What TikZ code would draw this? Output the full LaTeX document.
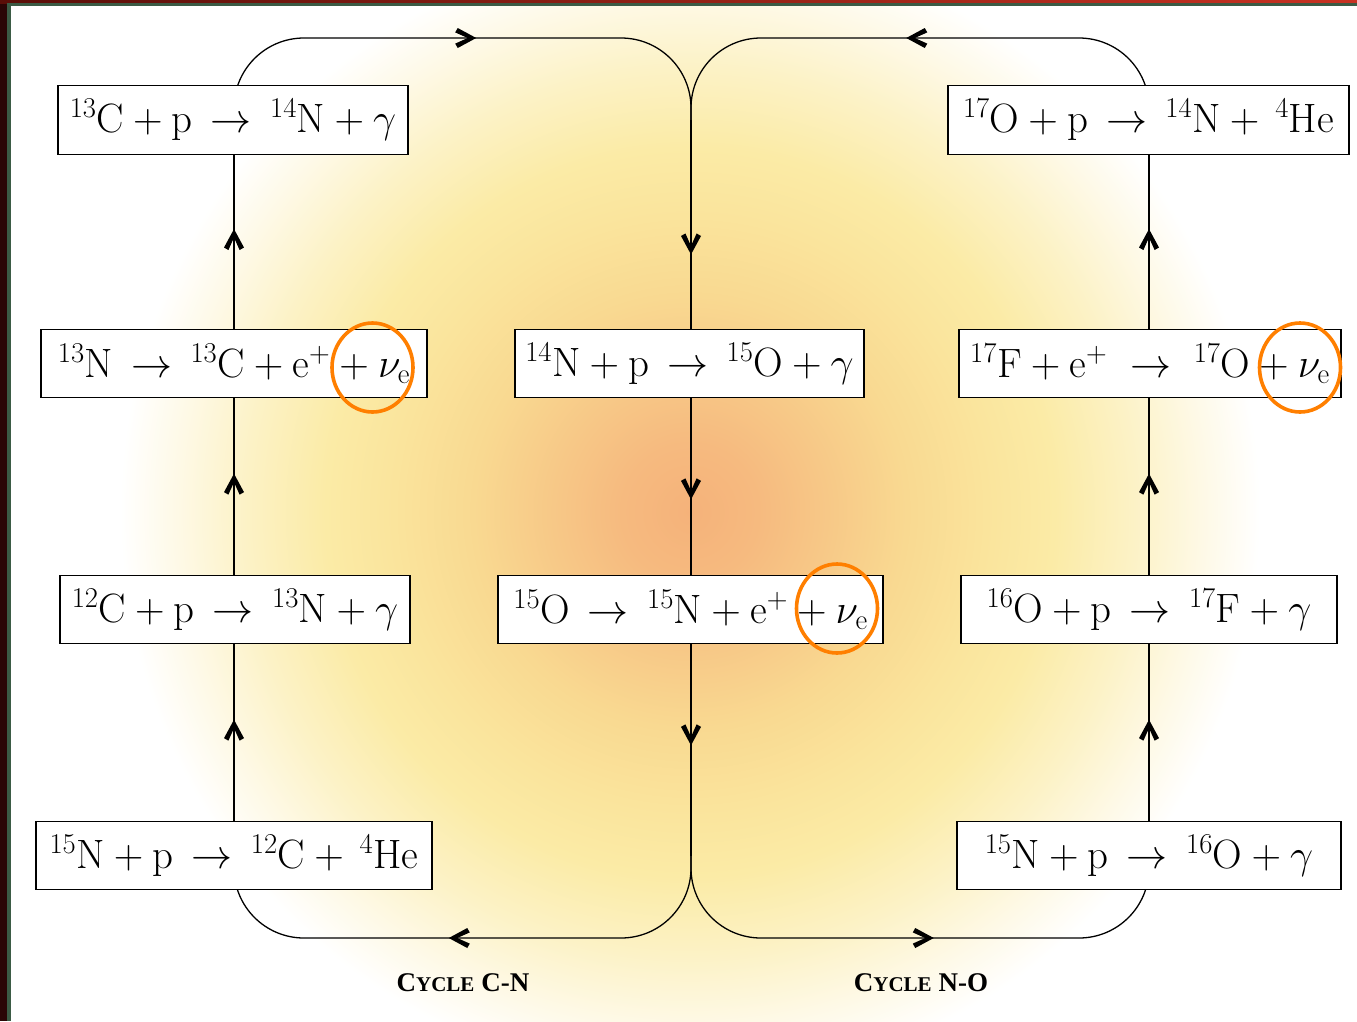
\RequirePackage{fix-cm}
\documentclass[tikz,border=0pt]{standalone}
\usepackage{fontspec}
\newfontfamily\labfont{Liberation Serif}
\usetikzlibrary{arrows.meta,decorations.markings,shapes.geometric}
\pgfdeclarelayer{bgg}
\pgfdeclarelayer{bg}
\pgfsetlayers{bgg,bg,main}
\definecolor{sun0}{HTML}{F5B27A}
\definecolor{sun1}{HTML}{F6BA7F}
\definecolor{sun2}{HTML}{F7C887}
\definecolor{sun3}{HTML}{F9D991}
\definecolor{sun4}{HTML}{FAE49C}
\definecolor{sun5}{HTML}{FBEBA6}
\definecolor{sun6}{HTML}{FCF2C6}
\definecolor{sun7}{HTML}{FEF9E6}
\definecolor{ringorange}{HTML}{FF7F00}
\definecolor{bordL}{HTML}{2A0606}
\definecolor{bordG}{HTML}{3B5B45}
\definecolor{bordRa}{HTML}{5A0E08}
\definecolor{bordRb}{HTML}{C83222}
\pgfdeclareradialshading{sunshade}{\pgfpoint{0bp}{0bp}}{color(0bp)=(sun0); color(3bp)=(sun1); color(6bp)=(sun2); color(9.5bp)=(sun3); color(13bp)=(sun4); color(16bp)=(sun5); color(19.5bp)=(sun6); color(22.5bp)=(sun7); color(25bp)=(white); color(50bp)=(white)}
\newcommand{\iso}[2]{{}^{#1}\mathrm{#2}}
\tikzset{
  rx/.style={draw, line width=1.2pt, fill=white, minimum height=68.5pt, inner xsep=0pt, inner ysep=0pt, font=\fontsize{41}{49}\selectfont},
  link/.style={line width=1.3pt},
  arrowat/.style={postaction={decorate}, decoration={markings, mark=at position #1 with {\fill[black, sharp corners] (2.5pt,0pt) -- (-16pt,10pt) -- (-18.5pt,5.6pt) -- (-6pt,0pt) -- (-18.5pt,-5.6pt) -- (-16pt,-10pt) -- cycle;}}},
  ring/.style={ellipse, draw=ringorange, line width=3.6pt, minimum width=81pt, minimum height=89pt, inner sep=0pt},
  lab/.style={font=\labfont\bfseries, inner sep=0pt}
}
\newcommand{\cyc}[1]{{\fontsize{27}{30}\selectfont C}{\fontsize{21}{24}\selectfont YCLE}\hspace{7pt}{\fontsize{27}{30}\selectfont #1}}
\begin{document}
\begin{tikzpicture}[x=1pt,y=-1pt]
\useasboundingbox (0,0) rectangle (1357,1021);
% background
\begin{pgfonlayer}{bgg}
\fill[white] (0,0) rectangle (1357,1021);
\begin{scope}
\clip (11,6) rectangle (1357,1021);
\shade[shading=sunshade] (120,-58) rectangle (1260,1082);
\end{scope}
\end{pgfonlayer}
% reaction boxes
\node[rx, minimum width=350pt] (B1) at (233,120) {$\iso{13}{C}+\mathrm{p}\,\rightarrow\,\iso{14}{N}+\gamma$};
\node[rx, minimum width=386pt] (B2) at (234,363.5) {$\iso{13}{N}\,\rightarrow\,\iso{13}{C}+\mathrm{e}^{+}+\nu_{\mathrm{e}}$};
\node[rx, minimum width=350pt] (B3) at (235,609.5) {$\iso{12}{C}+\mathrm{p}\,\rightarrow\,\iso{13}{N}+\gamma$};
\node[rx, minimum width=396pt] (B4) at (234,855.5) {$\iso{15}{N}+\mathrm{p}\,\rightarrow\,\iso{12}{C}+\,\iso{4}{He}$};
\node[rx, minimum width=349pt] (M1) at (689.5,363.5) {$\iso{14}{N}+\mathrm{p}\,\rightarrow\,\iso{15}{O}+\gamma$};
\node[rx, minimum width=385pt] (M2) at (690.5,609.5) {$\iso{15}{O}\,\rightarrow\,\iso{15}{N}+\mathrm{e}^{+}+\nu_{\mathrm{e}}$};
\node[rx, minimum width=401pt] (R1) at (1148.5,120) {$\iso{17}{O}+\mathrm{p}\,\rightarrow\,\iso{14}{N}+\,\iso{4}{He}$};
\node[rx, minimum width=382pt] (R2) at (1150,363.5) {$\iso{17}{F}+\mathrm{e}^{+}\;\rightarrow\;\iso{17}{O}+\nu_{\mathrm{e}}$};
\node[rx, minimum width=376pt] (R3) at (1149,609.5) {$\iso{16}{O}+\mathrm{p}\,\rightarrow\,\iso{17}{F}+\gamma$};
\node[rx, minimum width=384pt] (R4) at (1149,855.5) {$\iso{15}{N}+\mathrm{p}\,\rightarrow\,\iso{16}{O}+\gamma$};
% junction coordinates
\coordinate (Mtop) at (691,120);
\coordinate (Mbot) at (691,855.5);
\coordinate (topL) at (462,38);
\coordinate (topR) at (920,38);
\coordinate (botL) at (462,938);
\coordinate (botR) at (920,938);
% connectors
\begin{pgfonlayer}{bg}
\draw[link, arrowat=0.542] (B4.center) -- (B4.center |- B3.center);
\draw[link, arrowat=0.542] (B3.center -| B4.center) -- (B2.center -| B4.center);
\draw[link, arrowat=0.542] (B2.center -| B4.center) -- (B1.center -| B4.center);
\draw[link, arrowat=0.542] (R4.center) -- (R4.center |- R3.center);
\draw[link, arrowat=0.542] (R3.center -| R4.center) -- (R2.center -| R4.center);
\draw[link, arrowat=0.542] (R2.center -| R4.center) -- (R1.center -| R4.center);
\draw[link, arrowat=0.542] (Mtop) -- (Mtop |- M1.center);
\draw[link, arrowat=0.542] (Mtop |- M1.center) -- (Mtop |- M2.center);
\draw[link, arrowat=0.542] (Mtop |- M2.center) -- (Mbot);
\draw[link, rounded corners=70pt, arrowat=0.52] (B4.center |- B1.center) |- (topL) -| (Mtop);
\draw[link, rounded corners=70pt, arrowat=0.52] (R4.center |- R1.center) |- (topR) -| (Mtop);
\draw[link, rounded corners=70pt, arrowat=0.52] (Mbot) |- (botL) -| (B4.center);
\draw[link, rounded corners=70pt, arrowat=0.52] (Mbot) |- (botR) -| (R4.center);
\end{pgfonlayer}
% neutrino rings
\node[ring] (o1) at (372.5,367.5) {};
\node[ring] (o2) at (837,608.5) {};
\node[ring] (o3) at (1300,367.5) {};
% labels
\node[lab] (cn) at (463,983) {\cyc{C-N}};
\node[lab] (no) at (921,983) {\cyc{N-O}};
% frame strips
\fill[bordL] (0,0) rectangle (7,1021);
\fill[bordG] (7,6) rectangle (11,1021);
\shade[left color=bordRa, right color=bordRb] (0,0) rectangle (1357,3);
\fill[bordG] (7,3) rectangle (1357,6);
\end{tikzpicture}
\end{document}
